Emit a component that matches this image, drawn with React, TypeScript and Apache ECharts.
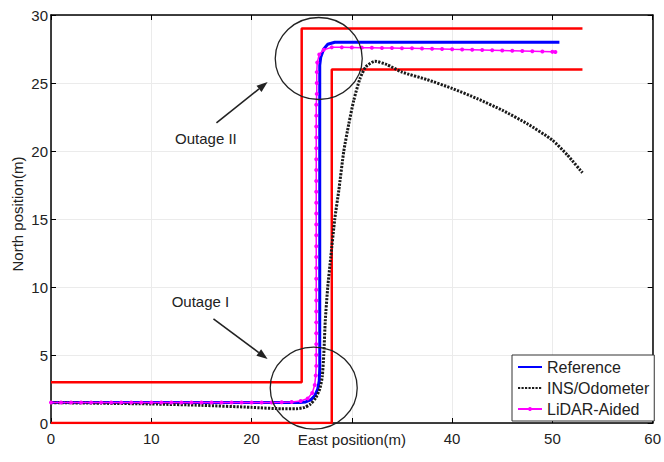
import React, { useEffect, useRef } from "react";
import * as echarts from "echarts";

const legendNames = ["Reference", "INS/Odometer", "LiDAR-Aided"];
const xTicks = { min: 0, max: 60, interval: 10 };
const yTicks = { min: 0, max: 30, interval: 5 };
// The x tick label hidden behind the axis title in the reference
const hiddenXTick = 30;

// Corridor boundaries (red)
const outerBoundary = [[0, 3], [25, 3], [25, 29], [53, 29]];
const innerBoundary = [[0, 0], [28, 0], [28, 26], [53, 26]];

// Reference trajectory (blue)
const referencePath = [
  [0, 1.5], [10, 1.5], [20, 1.5], [24.8, 1.5], [25.4, 1.55], [25.9, 1.7], [26.3, 2.0],
  [26.6, 2.5], [26.75, 3.1], [26.8, 4], [26.8, 15], [26.8, 26.3], [26.9, 26.9],
  [27.2, 27.5], [27.6, 27.85], [28.3, 28], [40, 28], [50.7, 28],
];

// INS/Odometer trajectory (black dotted)
const insPath = [
  [0, 1.5], [5, 1.45], [10, 1.4], [15, 1.3], [20, 1.15], [23, 1.05], [24.5, 1.05],
  [25.3, 1.15], [25.9, 1.4], [26.4, 1.85], [26.8, 2.5], [27.05, 3.4], [27.2, 5],
  [27.35, 7.5], [27.6, 10], [27.9, 12.2], [28.3, 15], [28.7, 17.1], [29.2, 20],
  [29.7, 22], [30.2, 23.75], [30.8, 25.3], [31.4, 26.2], [32.3, 26.6], [33.5, 26.35],
  [35, 25.8], [37.5, 25.25], [40, 24.6], [42.5, 23.85], [45, 23], [47.5, 22.0],
  [50, 20.8], [51.5, 19.7], [53, 18.4],
];

// LiDAR-aided trajectory (magenta, with markers)
const lidarPath = [
  [0, 1.5], [1, 1.5], [2, 1.5], [3, 1.5], [4, 1.5], [5, 1.5], [6, 1.5], [7, 1.5],
  [8, 1.5], [9, 1.5], [10, 1.5], [11, 1.5], [12, 1.5], [13, 1.5], [14, 1.5], [15, 1.5],
  [16, 1.5], [17, 1.5], [18, 1.5], [19, 1.5], [20, 1.5], [21, 1.5], [22, 1.5], [23, 1.52],
  [24, 1.55], [24.9, 1.62], [25.6, 1.8], [26.05, 2.2], [26.3, 2.8], [26.4, 3.5],
  [26.45, 4.2], [26.45, 5.0], [26.45, 5.8], [26.45, 6.6], [26.45, 7.4], [26.45, 8.2],
  [26.45, 9.0], [26.45, 9.8], [26.45, 10.6], [26.45, 11.4], [26.45, 12.2], [26.45, 13.0],
  [26.45, 13.8], [26.45, 14.6], [26.45, 15.4], [26.45, 16.2], [26.45, 17.0], [26.45, 17.8],
  [26.45, 18.6], [26.45, 19.4], [26.45, 20.2], [26.45, 21.0], [26.45, 21.8], [26.45, 22.6],
  [26.45, 23.4], [26.5, 24.2], [26.5, 25.0], [26.5, 25.8], [26.55, 26.5], [26.75, 27.1],
  [27.2, 27.45], [28, 27.62], [29, 27.62], [30, 27.61], [31, 27.6], [32, 27.59],
  [33, 27.58], [34, 27.57], [35, 27.56], [36, 27.55], [37, 27.53], [38, 27.52],
  [39, 27.5], [40, 27.48], [41, 27.47], [42, 27.45], [43, 27.43], [44, 27.41],
  [45, 27.39], [46, 27.37], [47, 27.35], [48, 27.33], [49, 27.31], [50, 27.29], [50.3, 27.28],
];

const annotationLabels = ["Outage II", "Outage I"];

const FONT = "'Liberation Sans', Arial, Helvetica, sans-serif";

export default function App() {
  const ref = useRef<HTMLDivElement>(null);
  useEffect(() => {
    const chart = echarts.init(ref.current!, null, { renderer: "svg" });
    const axisCommon = {
      axisLine: { show: true, onZero: false, lineStyle: { color: "#000", width: 1.5 } },
      axisTick: { show: true, inside: true, length: 5, lineStyle: { color: "#000", width: 1 } },
    };
    chart.setOption({
      animation: false,
      backgroundColor: "#fff",
      textStyle: { fontFamily: FONT },
      grid: { left: 51, right: 7, top: 15, bottom: 39, containLabel: false },
      legend: {
        data: [
          { name: legendNames[0], itemStyle: { opacity: 0 } },
          { name: legendNames[1], itemStyle: { opacity: 0 } },
          { name: legendNames[2] },
        ],
        orient: "vertical",
        left: 512,
        top: 355,
        itemWidth: 24,
        itemHeight: 5,
        itemGap: 5,
        padding: [4, 5, 4, 5],
        backgroundColor: "#fff",
        borderColor: "#333",
        borderWidth: 1,
        borderRadius: 0,
        textStyle: { fontSize: 16, color: "#222", fontFamily: FONT, lineHeight: 16 },
      },
      xAxis: [
        {
          type: "value",
          ...xTicks,
          ...axisCommon,
          position: "bottom",
          splitLine: { show: true, lineStyle: { color: "#ebebeb", width: 1 } },
          axisLabel: {
            fontSize: 15,
            color: "#222",
            margin: 8,
            fontFamily: FONT,
            formatter: (v: number) => (v === hiddenXTick ? "" : String(v)),
          },
          name: "East position(m)",
          nameLocation: "middle",
          nameGap: 9,
          nameMoveOverlap: false,
          nameTextStyle: { fontSize: 15, color: "#222", fontFamily: FONT },
        },
        {
          type: "value",
          ...xTicks,
          ...axisCommon,
          position: "top",
          splitLine: { show: false },
          axisLabel: { show: false },
        },
      ],
      yAxis: [
        {
          type: "value",
          ...yTicks,
          ...axisCommon,
          position: "left",
          splitLine: { show: true, lineStyle: { color: "#ebebeb", width: 1 } },
          axisLabel: { fontSize: 15, color: "#222", margin: 3, fontFamily: FONT },
          name: "North position(m)",
          nameLocation: "middle",
          nameGap: 26,
          nameMoveOverlap: false,
          nameTextStyle: { fontSize: 15, color: "#222", fontFamily: FONT, padding: [0, 0, 0, 10] },
        },
        {
          type: "value",
          ...yTicks,
          ...axisCommon,
          position: "right",
          splitLine: { show: false },
          axisLabel: { show: false },
        },
      ],
      series: [
        {
          name: "outer",
          type: "line",
          data: outerBoundary,
          symbol: "none",
          lineStyle: { color: "#ff0000", width: 2.5 },
          z: 2,
        },
        {
          name: "inner",
          type: "line",
          data: innerBoundary,
          symbol: "none",
          lineStyle: { color: "#ff0000", width: 2.5 },
          z: 2,
        },
        {
          name: legendNames[0],
          type: "line",
          data: referencePath,
          symbol: "none",
          color: "#0000ff",
          lineStyle: { color: "#0000ff", width: 3 },
          z: 3,
        },
        {
          name: legendNames[1],
          type: "line",
          data: insPath,
          symbol: "none",
          smooth: 0.2,
          color: "#111",
          lineStyle: { color: "#1a1a1a", width: 3, type: [2.2, 1.3] },
          z: 4,
        },
        {
          name: legendNames[2],
          type: "line",
          data: lidarPath,
          symbol: "circle",
          symbolSize: 4,
          color: "#ff00ff",
          itemStyle: { color: "#ff00ff" },
          lineStyle: { color: "#ff00ff", width: 1.5 },
          z: 5,
        },
      ],
    });

    const px = (x: number, y: number) => chart.convertToPixel({ gridIndex: 0 }, [x, y]) as number[];
    const arrow = (from: number[], to: number[]) => {
      const a = px(from[0], from[1]);
      const b = px(to[0], to[1]);
      const dx = b[0] - a[0];
      const dy = b[1] - a[1];
      const L = Math.hypot(dx, dy);
      const ux = dx / L, uy = dy / L;
      const hl = 11, hw = 4;
      const bx = b[0] - ux * hl, by = b[1] - uy * hl;
      return [
        {
          type: "line",
          shape: { x1: a[0], y1: a[1], x2: bx, y2: by },
          style: { stroke: "#222", lineWidth: 1.6 },
          z: 100,
        },
        {
          type: "polygon",
          shape: {
            points: [
              [b[0], b[1]],
              [bx - uy * hw, by + ux * hw],
              [bx + uy * hw, by - ux * hw],
            ],
          },
          style: { fill: "#222" },
          z: 100,
        },
      ];
    };
    const ellipse = (cx: number, cy: number, rx: number, ry: number) => {
      const c = px(cx, cy);
      return {
        type: "ellipse",
        shape: { cx: c[0], cy: c[1], rx, ry },
        style: { fill: "none", stroke: "#222", lineWidth: 1.3 },
        z: 100,
      };
    };
    const label = (text: string, x: number, y: number) => {
      const p = px(x, y);
      return {
        type: "text",
        x: p[0],
        y: p[1],
        style: {
          text,
          fill: "#222",
          font: `15px ${FONT}`,
          textAlign: "center",
          textVerticalAlign: "middle",
        },
        z: 100,
      };
    };
    chart.setOption({
      graphic: [
        ellipse(26.7, 26.8, 43.5, 41),
        ellipse(26.2, 2.57, 43.5, 41),
        ...arrow([16.5, 22.06], [21.6, 25.07]),
        ...arrow([16.2, 7.65], [21.6, 4.7]),
        label(annotationLabels[0], 15.45, 20.95),
        label(annotationLabels[1], 14.9, 8.9),
      ],
    });
    return () => chart.dispose();
  }, []);
  return (
    <div
      ref={ref}
      style={{ position: "fixed", left: 0, top: 0, width: 664, height: 462, background: "#fff" }}
    />
  );
}
